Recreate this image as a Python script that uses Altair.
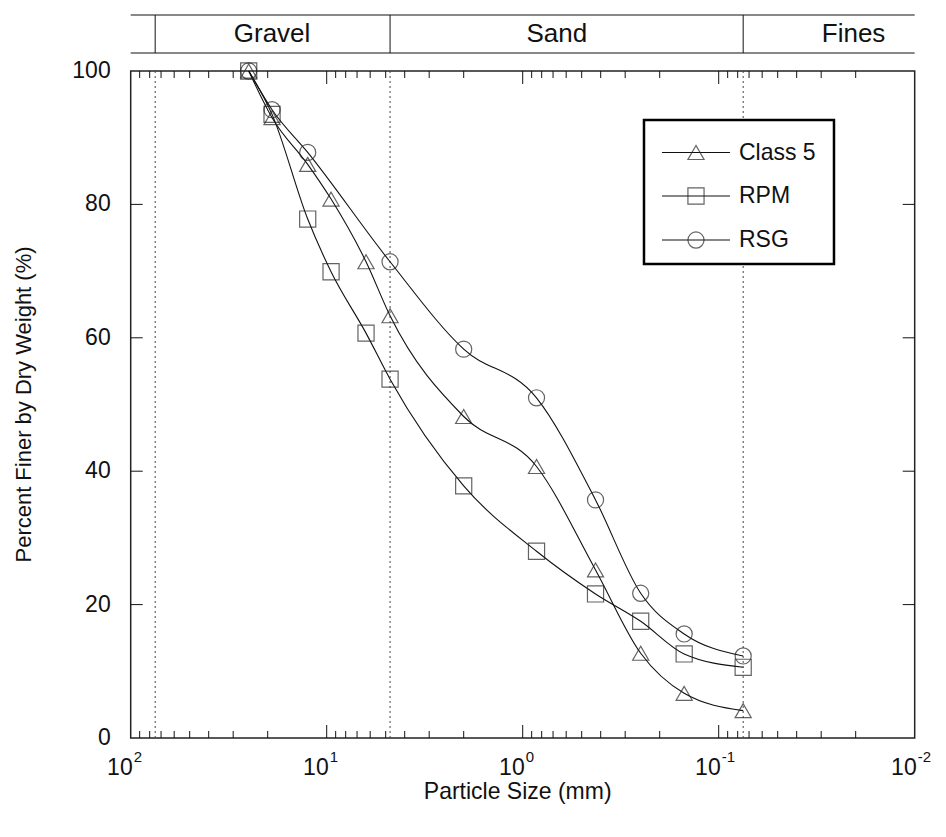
import altair as alt
import pandas as pd

# ---------------- data ----------------
series_names = ["Class 5", "RPM", "RSG"]

class5_size = [25, 19, 12.5, 9.5, 6.3, 4.75, 2.0, 0.85, 0.425, 0.25, 0.15, 0.075]
class5_pct = [100, 93.0, 86.0, 80.8, 71.4, 63.3, 48.2, 40.7, 25.2, 12.7, 6.7, 4.1]

rpm_size = [25, 19, 12.5, 9.5, 6.3, 4.75, 2.0, 0.85, 0.425, 0.25, 0.15, 0.075]
rpm_pct = [100, 93.5, 77.8, 69.9, 60.7, 53.8, 37.8, 28.0, 21.6, 17.5, 12.6, 10.6]

rsg_size = [25, 19, 12.5, 4.75, 2.0, 0.85, 0.425, 0.25, 0.15, 0.075]
rsg_pct = [100, 94.2, 87.8, 71.4, 58.3, 51.0, 35.7, 21.7, 15.6, 12.3]

divider_mm = [75, 4.75, 0.075]              # gravel/sand/fines boundaries
band_labels = ["Gravel", "Sand", "Fines"]
band_label_mm = [19, 0.67, 0.0205]

decades = [100, 10, 1, 0.1, 0.01]
decade_exp = ["2", "1", "0", "-1", "-2"]
minor_mult = [2, 3, 4, 5, 6, 7, 8, 9]
y_ticks = [20, 40, 60, 80]
y_labels = [0, 20, 40, 60, 80, 100]

x_title = "Particle Size (mm)"
y_title = "Percent Finer by Dry Weight (%)"

shapes = ["triangle-up", "square", "circle"]

# ---------------- tables ----------------
rows = []
for name, sz, pc in [("Class 5", class5_size, class5_pct),
                     ("RPM", rpm_size, rpm_pct),
                     ("RSG", rsg_size, rsg_pct)]:
    for s, p in zip(sz, pc):
        rows.append({"series": name, "size": s, "pct": p})
df = pd.DataFrame(rows)

df_div = pd.DataFrame({"d": divider_mm})
df_band = pd.DataFrame({"label": band_labels, "pos": band_label_mm})
df_dec = pd.DataFrame({"d": decades, "e": decade_exp})
minor_vals = [m * 10 ** e for e in [1, 0, -1, -2] for m in minor_mult]
df_minor = pd.DataFrame({"d": minor_vals})
df_major = pd.DataFrame({"d": decades[1:-1]})
df_yt = pd.DataFrame({"v": y_ticks})
df_yl = pd.DataFrame({"v": y_labels})
df_one = pd.DataFrame({"k": [0]})

W, H = 784, 667
FONT = "Liberation Sans"
INK = "#111111"

xscale = alt.Scale(type="log", domain=[0.01, 100], reverse=True, nice=False)
yscale = alt.Scale(domain=[0, 100], nice=False)


def xenc(field):
    return alt.X(f"{field}:Q", scale=xscale, axis=None)


def yenc(field):
    return alt.Y(f"{field}:Q", scale=yscale, axis=None)


# dotted boundary lines in plot
dotted = alt.Chart(df_div).mark_rule(color="#444", strokeDash=[2, 3], strokeWidth=1).encode(
    x=xenc("d"), y=alt.value(0), y2=alt.value(H))

# band above plot
band_div = alt.Chart(df_div).mark_rule(color=INK, strokeWidth=1).encode(
    x=xenc("d"), y=alt.value(-56), y2=alt.value(-18))
band_top = alt.Chart(df_one).mark_rule(color=INK, strokeWidth=1).encode(
    x=alt.value(0), x2=alt.value(W), y=alt.value(-56))
band_bot = alt.Chart(df_one).mark_rule(color=INK, strokeWidth=1).encode(
    x=alt.value(0), x2=alt.value(W), y=alt.value(-18))
band_txt = alt.Chart(df_band).mark_text(font=FONT, fontSize=26, color=INK, baseline="middle").encode(
    x=xenc("pos"), y=alt.value(-37), text="label:N")

# curves
lines = alt.Chart(df).mark_line(interpolate="monotone", color=INK, strokeWidth=1.1).encode(
    x=xenc("size"), y=yenc("pct"),
    detail="series:N",
    order=alt.Order("size:Q", sort="descending"),
)

points = alt.Chart(df).mark_point(filled=False, size=260, strokeWidth=1.2, color="#222").encode(
    x=xenc("size"), y=yenc("pct"),
    shape=alt.Shape("series:N", scale=alt.Scale(domain=series_names, range=shapes), legend=None),
)

# ticks (inward)
bot_major = alt.Chart(df_major).mark_rule(color=INK, strokeWidth=1).encode(
    x=xenc("d"), y=alt.value(H), y2=alt.value(H - 13))
bot_minor = alt.Chart(df_minor).mark_rule(color=INK, strokeWidth=1).encode(
    x=xenc("d"), y=alt.value(H), y2=alt.value(H - 7))
top_major = alt.Chart(df_major).mark_rule(color=INK, strokeWidth=1).encode(
    x=xenc("d"), y=alt.value(0), y2=alt.value(13))
top_minor = alt.Chart(df_minor).mark_rule(color=INK, strokeWidth=1).encode(
    x=xenc("d"), y=alt.value(0), y2=alt.value(7))
left_t = alt.Chart(df_yt).mark_rule(color=INK, strokeWidth=1).encode(
    y=yenc("v"), x=alt.value(0), x2=alt.value(12))
right_t = alt.Chart(df_yt).mark_rule(color=INK, strokeWidth=1).encode(
    y=yenc("v"), x=alt.value(W - 12), x2=alt.value(W))

# y tick labels
ylab = alt.Chart(df_yl).mark_text(font=FONT, fontSize=23, color=INK, align="right",
                                  baseline="middle").encode(
    y=yenc("v"), x=alt.value(-20), text="v:Q")

# x tick labels 10^n
lab_base = alt.Chart(df_dec).mark_text(font=FONT, fontSize=23, color=INK, align="right",
                                       baseline="middle", dx=2).encode(
    x=xenc("d"), y=alt.value(H + 30), text=alt.value("10"))
lab_exp = alt.Chart(df_dec).mark_text(font=FONT, fontSize=15, color=INK, align="left",
                                      baseline="middle", dx=3).encode(
    x=xenc("d"), y=alt.value(H + 19), text="e:N")

# axis titles
xt = alt.Chart(df_one).mark_text(font=FONT, fontSize=23, color=INK, align="center",
                                 baseline="middle").encode(
    x=alt.value(387), y=alt.value(H + 54), text=alt.value(x_title))
yt = alt.Chart(df_one).mark_text(font=FONT, fontSize=22, color=INK, align="center",
                                 baseline="middle", angle=270).encode(
    x=alt.value(-107), y=alt.value(H / 2), text=alt.value(y_title))

# legend
LX0, LX1, LY0, LY1 = 513.3, 703.3, 49, 193
leg_box = alt.Chart(df_one).mark_rect(fill="white", stroke="black", strokeWidth=2.5).encode(
    x=alt.value(LX0), x2=alt.value(LX1), y=alt.value(LY0), y2=alt.value(LY1))
leg_layers = [leg_box]
row_y = [81.5, 125, 169]
for name, shp, ry in zip(series_names, shapes, row_y):
    leg_layers.append(alt.Chart(df_one).mark_rule(color=INK, strokeWidth=1.1).encode(
        x=alt.value(531.3), x2=alt.value(599.3), y=alt.value(ry)))
    leg_layers.append(alt.Chart(df_one).mark_point(filled=False, size=260, strokeWidth=1.2,
                                                   color="#222", shape=shp).encode(
        x=alt.value(565.3), y=alt.value(ry)))
    leg_layers.append(alt.Chart(df_one).mark_text(font=FONT, fontSize=23, color=INK, align="left",
                                                  baseline="middle").encode(
        x=alt.value(608.3), y=alt.value(ry), text=alt.value(name)))

chart = alt.layer(
    dotted, band_div, band_top, band_bot, band_txt,
    lines, points,
    bot_major, bot_minor, top_major, top_minor, left_t, right_t,
    ylab, lab_base, lab_exp, xt, yt,
    *leg_layers,
).properties(
    width=W, height=H,
    autosize=alt.AutoSizeParams(type="none"),
    padding={"left": 122.7, "top": 63, "right": 20, "bottom": 80},
).configure_view(stroke="#222", strokeWidth=1.5)

chart.save("out.html", embed_options={"renderer": "svg", "actions": False})
